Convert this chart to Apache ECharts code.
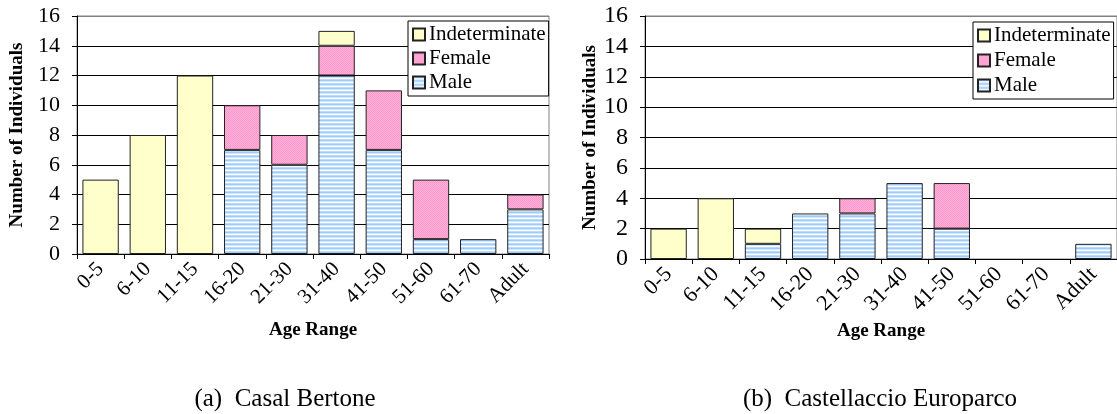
<!DOCTYPE html>
<html>
<head>
<meta charset="utf-8">
<script src="https://cdn.jsdelivr.net/npm/echarts@6/dist/echarts.min.js"></script>
<style>
  html, body { margin: 0; padding: 0; background: #fff; }
  #main { width: 1117px; height: 414px; }
</style>
</head>
<body>
<div id="main"></div>
<script>
const ageRanges = ['0-5', '6-10', '11-15', '16-20', '21-30', '31-40', '41-50', '51-60', '61-70', 'Adult']
const yTicks = [0, 2, 4, 6, 8, 10, 12, 14, 16]

// Casal Bertone
const casalMale = [0, 0, 0, 7, 6, 12, 7, 1, 1, 3]
const casalFemale = [0, 0, 0, 3, 2, 2, 4, 4, 0, 1]
const casalIndet = [5, 8, 12, 0, 0, 1, 0, 0, 0, 0]

// Castellaccio Europarco
const castMale = [0, 0, 1, 3, 3, 5, 2, 0, 0, 1]
const castFemale = [0, 0, 0, 0, 1, 0, 3, 0, 0, 0]
const castIndet = [2, 4, 1, 0, 0, 0, 0, 0, 0, 0]

const serif = '"Liberation Serif", "Times New Roman", serif'

function pattern(w, h, rows) {
  const c = document.createElement('canvas')
  c.width = w
  c.height = h
  const ctx = c.getContext('2d')
  for (let y = 0; y < h; y++) {
    for (let x = 0; x < w; x++) {
      ctx.fillStyle = rows[y][x]
      ctx.fillRect(x, y, 1, 1)
    }
  }
  return { image: c, repeat: 'repeat' }
}

const maleFill = pattern(1, 4, [['#9ccbff'], ['#d4e9ff'], ['#ffffff'], ['#bcdcff']])
const femaleFill = pattern(2, 2, [['#ff99cc', '#ffb0d8'], ['#ffb0d8', '#ff99cc']])
const indetFill = '#ffffcc'

const chart = echarts.init(document.getElementById('main'))

function nz(arr) {
  return arr.map(v => (v === 0 ? null : v))
}

function makeSeries(idx, male, female, indet) {
  const stack = 's' + idx
  const base = {
    type: 'bar',
    stack: stack,
    xAxisIndex: idx,
    yAxisIndex: idx,
    barCategoryGap: '23%',
    animation: false
  }
  return [
    Object.assign({}, base, {
      name: 'Male',
      data: nz(male),
      itemStyle: { color: maleFill, borderColor: '#222', borderWidth: 1 }
    }),
    Object.assign({}, base, {
      name: 'Female',
      data: nz(female),
      itemStyle: { color: femaleFill, borderColor: '#222', borderWidth: 1 }
    }),
    Object.assign({}, base, {
      name: 'Indeterminate',
      data: nz(indet),
      itemStyle: { color: indetFill, borderColor: '#222', borderWidth: 1 }
    })
  ]
}

function makeX(idx, gap, fs) {
  return {
    type: 'category',
    gridIndex: idx,
    data: ageRanges,
    name: 'Age Range',
    nameLocation: 'middle',
    nameGap: gap,
    nameTextStyle: { fontFamily: serif, fontWeight: 'bold', fontSize: 19, color: '#000' },
    axisLine: { lineStyle: { color: '#000', width: 1 } },
    axisTick: { show: true, length: 5, lineStyle: { color: '#000' } },
    axisLabel: { rotate: 45, margin: 12, fontFamily: serif, fontSize: fs, color: '#000' },
    splitLine: { show: false }
  }
}

function makeY(idx, gap, fs, margin) {
  return {
    type: 'value',
    gridIndex: idx,
    min: yTicks[0],
    max: yTicks[yTicks.length - 1],
    interval: 2,
    name: 'Number of Individuals',
    nameLocation: 'middle',
    nameGap: gap,
    nameTextStyle: { fontFamily: serif, fontWeight: 'bold', fontSize: 19, color: '#000' },
    axisLine: { show: true, lineStyle: { color: '#000', width: 1 } },
    axisTick: { show: true, length: 5, lineStyle: { color: '#000' } },
    axisLabel: { margin: margin, fontFamily: serif, fontSize: fs, color: '#000' },
    splitLine: {
      show: true,
      lineStyle: {
        color: yTicks.map((t, i) => (i === yTicks.length - 1 ? '#808080' : '#000')),
        width: 1
      }
    }
  }
}

function makeLegend(left, top, gap) {
  return {
    orient: 'vertical',
    left: left,
    top: top,
    data: ['Indeterminate', 'Female', 'Male'],
    backgroundColor: '#fff',
    borderColor: '#000',
    borderWidth: 1,
    borderRadius: 0,
    padding: [3, 3, 3, 4],
    itemWidth: 12,
    itemHeight: 12,
    itemGap: gap,
    icon: 'rect',
    textStyle: { fontFamily: serif, fontSize: 21, lineHeight: 21, color: '#000', padding: [0, 0, 0, -1] },
    selectedMode: false
  }
}

chart.setOption({
  animation: false,
  grid: [
    { left: 77, top: 16, width: 472, height: 238, show: true, borderColor: '#808080', borderWidth: 1, containLabel: false },
    { left: 645, top: 16, width: 472, height: 243, show: true, borderColor: '#808080', borderWidth: 1, containLabel: false }
  ],
  title: [
    { text: '(a)  Casal Bertone', left: 280, top: 382, textAlign: 'center',
      textStyle: { fontFamily: serif, fontWeight: 'normal', fontSize: 25, color: '#000' } },
    { text: '(b)  Castellaccio Europarco', left: 875, top: 382, textAlign: 'center',
      textStyle: { fontFamily: serif, fontWeight: 'normal', fontSize: 25, color: '#000' } }
  ],
  legend: [makeLegend(408, 21, 3), makeLegend(973, 22, 4)],
  xAxis: [makeX(0, 67, 21), makeX(1, 56, 22)],
  yAxis: [makeY(0, 50, 22, 17), makeY(1, 45, 24, 17)],
  series: makeSeries(0, casalMale, casalFemale, casalIndet)
    .concat(makeSeries(1, castMale, castFemale, castIndet))
})
</script>
</body>
</html>
